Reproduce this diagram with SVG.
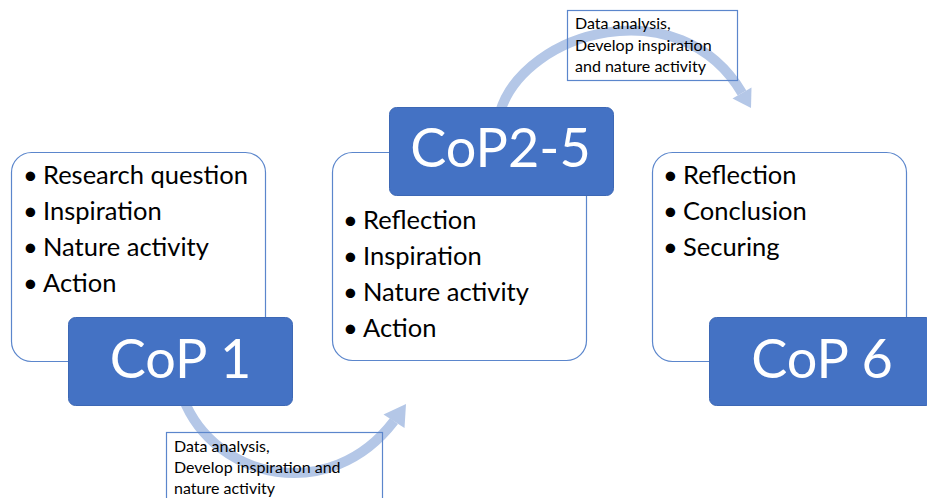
<svg xmlns="http://www.w3.org/2000/svg" width="927" height="498" viewBox="0 0 927 498">
  <style>
    .panel { fill: #ffffff; stroke: #5b86cc; stroke-width: 1.2; }
    .tag { fill: #4472c4; stroke: #3d68b5; stroke-width: 1; }
    .tag-text { font-family: Lato, "Liberation Sans", sans-serif; font-size: 54px; fill: #ffffff; text-anchor: middle; }
    .item { font-family: Lato, "Liberation Sans", sans-serif; font-size: 25.5px; fill: #000000; }
    .note { font-family: Lato, "Liberation Sans", sans-serif; font-size: 16px; fill: #000000; }
    .note-box { fill: none; stroke: #5b86cc; stroke-width: 1.2; }
    .flow { fill: none; stroke: #b4c7e7; stroke-width: 10; }
    .flow-head { fill: #b4c7e7; }
  </style>

  <!-- curved arrows between the stages -->
  <g id="connectors">
    <path class="flow" d="M183,398 C215,480 330,505 394,421"/>
    <polygon class="flow-head" points="406,404 404.5,428 383.5,414.5"/>
    <path class="flow" d="M500,112 C525,30 680,-12 742,93"/>
    <polygon class="flow-head" points="751,108 732.5,98.5 751.5,87.5"/>
  </g>

  <!-- stage 1 -->
  <g id="cop1">
    <rect class="panel" x="11.5" y="152.5" width="254" height="209" rx="20"/>
    <text class="item" x="23" y="184">•</text><text class="item" x="43" y="184">Research question</text>
    <text class="item" x="23" y="220">•</text><text class="item" x="43" y="220">Inspiration</text>
    <text class="item" x="23" y="256">•</text><text class="item" x="43" y="256">Nature activity</text>
    <text class="item" x="23" y="292">•</text><text class="item" x="43" y="292">Action</text>
    <rect class="tag" x="68.5" y="317.5" width="224" height="88" rx="7"/>
    <text class="tag-text" x="180.5" y="378">CoP 1</text>
  </g>

  <!-- stages 2 to 5 -->
  <g id="cop2-5">
    <rect class="panel" x="332.5" y="152.5" width="254" height="208" rx="20"/>
    <text class="item" x="343" y="229">•</text><text class="item" x="363" y="229">Reflection</text>
    <text class="item" x="343" y="265">•</text><text class="item" x="363" y="265">Inspiration</text>
    <text class="item" x="343" y="301">•</text><text class="item" x="363" y="301">Nature activity</text>
    <text class="item" x="343" y="337">•</text><text class="item" x="363" y="337">Action</text>
    <rect class="tag" x="389.5" y="107.5" width="224" height="88" rx="7"/>
    <text class="tag-text" x="500.5" y="167">CoP2-5</text>
  </g>

  <!-- stage 6 -->
  <g id="cop6">
    <rect class="panel" x="652.5" y="152.5" width="254" height="209" rx="20"/>
    <text class="item" x="663" y="184">•</text><text class="item" x="683" y="184">Reflection</text>
    <text class="item" x="663" y="220">•</text><text class="item" x="683" y="220">Conclusion</text>
    <text class="item" x="663" y="256">•</text><text class="item" x="683" y="256">Securing</text>
    <rect class="tag" x="709.5" y="317.5" width="224" height="88" rx="7"/>
    <text class="tag-text" x="822" y="378">CoP 6</text>
  </g>

  <!-- notes on the transitions -->
  <g id="note-lower">
    <rect class="note-box" x="166.5" y="432.5" width="216" height="80"/>
    <text class="note" x="174" y="452">Data analysis,</text>
    <text class="note" x="174" y="473">Develop inspiration and</text>
    <text class="note" x="174" y="494">nature activity</text>
  </g>
  <g id="note-upper">
    <rect class="note-box" x="567.5" y="10.5" width="170" height="70"/>
    <text class="note" x="575" y="29">Data analysis,</text>
    <text class="note" x="575" y="51">Develop inspiration</text>
    <text class="note" x="575" y="72">and nature activity</text>
  </g>
</svg>
